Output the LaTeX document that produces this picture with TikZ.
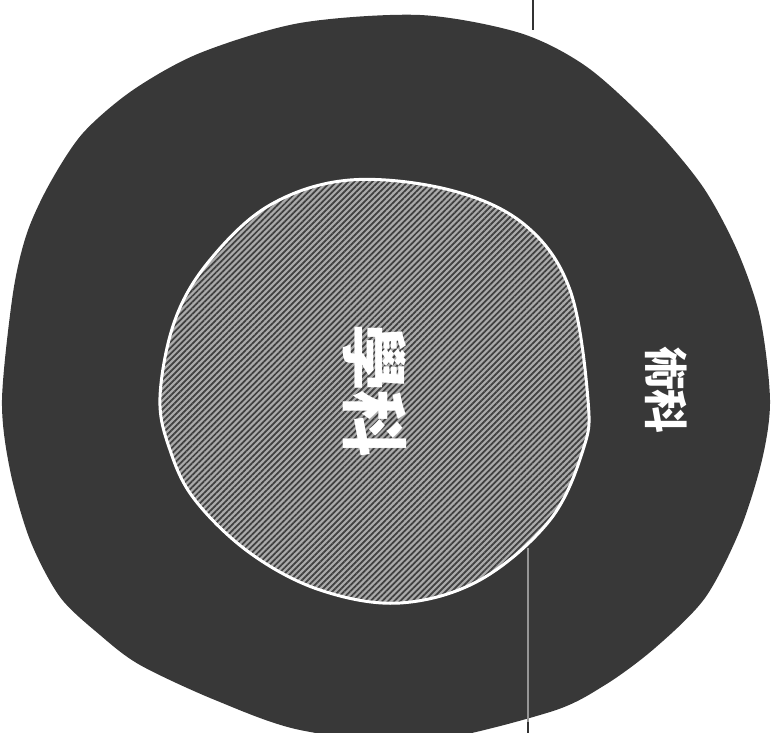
\documentclass[tikz,border=0pt]{standalone}
\usepackage{fontspec}
\newfontfamily\cjk{Noto Sans CJK TC}
\usetikzlibrary{patterns.meta}
\definecolor{outerdark}{RGB}{56, 56, 56}
\definecolor{innergray}{RGB}{170, 170, 170}
\definecolor{leadgray}{RGB}{150, 150, 150}

\begin{document}
\begin{tikzpicture}[x=0.02cm, y=-0.02cm]
  \useasboundingbox (0,0) rectangle (782,733);
  \clip (0,0) rectangle (782,733);

  % Outer region
  \fill[outerdark] plot[smooth cycle, tension=0.5] coordinates {
    (300,23) (420,15) (520,33) (587,67) (653,127) (703,187) (737,250)
    (760,317) (770,400) (762,460) (740,530) (705,598) (655,648) (605,685)
    (550,712) (420,742) (300,730) (215,700) (140,665) (100,635) (60,597)
    (30,540) (10,470) (2,400) (13,293) (27,233) (50,183) (83,133) (133,90) (200,53)
  };

  % Inner region
  \draw[white, line width=1.7pt, preaction={fill=innergray},
        pattern={Lines[angle=45, distance=2.4pt, line width=1pt]}, pattern color=black!75]
    plot[smooth cycle, tension=0.6] coordinates {
    (350,180) (450,190) (525,225) (570,290) (588,400) (583,450) (550,520)
    (480,580) (400,603) (320,590) (250,553) (195,500) (170,450) (160,397)
    (175,320) (210,260) (270,205)
  };

  % Lead line
  \coordinate (leadtop) at (533,0);
  \coordinate (leadouter) at (533,30);
  \coordinate (leadinner) at (528,548);
  \coordinate (leadrim) at (528,722);
  \coordinate (leadend) at (528,733);
  \draw[black!80, line width=1.1pt] (leadtop) -- (leadouter);
  \draw[leadgray, line width=0.9pt] (leadinner) -- (leadrim);
  \draw[black!80, line width=1.1pt] (leadrim) -- (leadend);

  % Labels
  \node[text=white, font=\cjk\bfseries\fontsize{38}{38}\selectfont, rotate=-90, inner sep=0pt] (xueke) at (375,391) {學科};
  \node[text=white, font=\cjk\bfseries\fontsize{25}{25}\selectfont, rotate=-90, inner sep=0pt] (shuke) at (666,390) {術科};
\end{tikzpicture}
\end{document}
